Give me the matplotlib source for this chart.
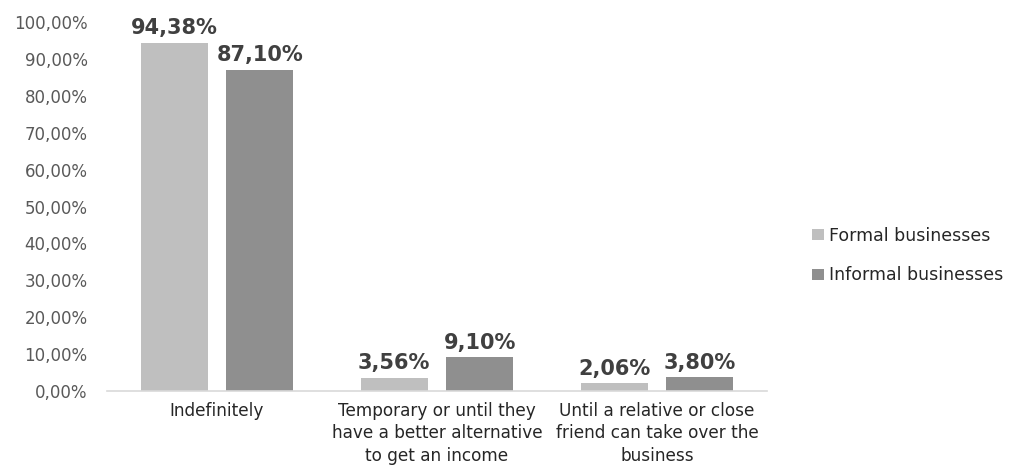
import matplotlib
matplotlib.use("Agg")
import matplotlib.pyplot as plt
import numpy as np
from matplotlib.ticker import FuncFormatter
from matplotlib.patches import Patch

categories = [
    "Indefinitely",
    "Temporary or until they\nhave a better alternative\nto get an income",
    "Until a relative or close\nfriend can take over the\nbusiness",
]
formal = [94.38, 3.56, 2.06]
informal = [87.10, 9.10, 3.80]
series_names = ["Formal businesses", "Informal businesses"]
colors = ["#BFBFBF", "#8F8F8F"]

plt.rcParams['font.family'] = ['DejaVu Sans']

fig = plt.figure(figsize=(10.15, 4.69), dpi=100)
ax = fig.add_axes([0.1054, 0.1663, 0.6503, 0.7868])

x = np.arange(len(categories))
width = 0.305
offset = 0.195

def pct(v):
    return f"{v:.2f}".replace(".", ",") + "%"

for vals, col, off in [(formal, colors[0], -offset), (informal, colors[1], offset)]:
    bars = ax.bar(x + off, vals, width, color=col)
    for b, v in zip(bars, vals):
        ax.text(b.get_x() + b.get_width() / 2, v + 1.2, pct(v),
                ha="center", va="bottom", fontsize=15, fontweight="bold",
                color="#404040")

ax.set_xlim(-0.5, 2.5)
ax.set_ylim(0, 100)
ax.set_yticks(np.arange(0, 101, 10))
ax.yaxis.set_major_formatter(FuncFormatter(lambda v, p: pct(v)))
ax.set_xticks(x)
ax.set_xticklabels(categories, fontsize=12.2, color="#262626", linespacing=1.3)
ax.tick_params(axis="y", length=0, labelsize=12, labelcolor="#595959", pad=14)
ax.tick_params(axis="x", length=0, pad=8)

for s in ["top", "right", "left"]:
    ax.spines[s].set_visible(False)
ax.spines["bottom"].set_color("#D9D9D9")
ax.spines["bottom"].set_linewidth(1.2)

handles = [Patch(facecolor=c, edgecolor="none") for c in colors]
fig.legend(handles, series_names, loc="center left",
           bbox_to_anchor=(0.785, 0.455), frameon=False, fontsize=12.5,
           handlelength=0.65, handleheight=0.65, handletextpad=0.3,
           labelspacing=1.25, labelcolor="#262626")

fig.savefig("out.png", dpi=100)
